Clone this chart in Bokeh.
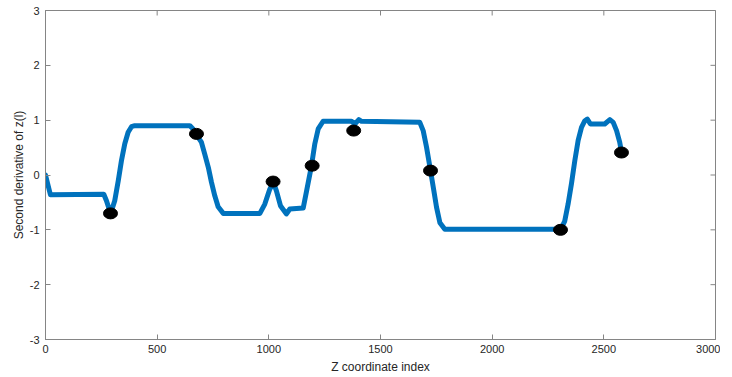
import math
from bokeh.plotting import figure
from bokeh.models import Range1d, FixedTicker, ColumnDataSource
from bokeh.embed import file_html
from bokeh.resources import INLINE

# Curve (Z coordinate index, second derivative)
curve_x = [0, 22, 261, 273, 285, 292, 310, 326, 340, 355, 370, 385, 400, 646, 661, 673,
           698, 713, 729, 743, 758, 773, 796, 960, 982, 1004, 1020, 1034, 1052, 1079,
           1094, 1154, 1169, 1191, 1206, 1221, 1243, 1370, 1385, 1403, 1415, 1676, 1691,
           1706, 1724, 1739, 1751, 1766, 1788, 2307, 2325, 2340, 2355, 2370, 2385, 2400,
           2415, 2426, 2440, 2504, 2527, 2542, 2557, 2571, 2579]
curve_y = [0.0, -0.36, -0.35, -0.47, -0.62, -0.70, -0.47, -0.10, 0.26, 0.57, 0.78, 0.88,
           0.90, 0.90, 0.84, 0.75, 0.60, 0.38, 0.14, -0.13, -0.38, -0.58, -0.70, -0.70,
           -0.53, -0.26, -0.13, -0.29, -0.56, -0.71, -0.62, -0.60, -0.29, 0.17, 0.57,
           0.84, 0.98, 0.98, 0.93, 1.01, 0.98, 0.96, 0.81, 0.51, 0.08, -0.29, -0.59,
           -0.87, -0.99, -0.99, -0.84, -0.53, -0.16, 0.26, 0.63, 0.87, 0.99, 1.02, 0.93,
           0.93, 1.01, 0.96, 0.81, 0.60, 0.42]

# Marked points
mark_x = [291, 676, 1019, 1194, 1380, 1724, 2306, 2579]
mark_y = [-0.70, 0.75, -0.12, 0.17, 0.81, 0.08, -1.0, 0.41]

x_ticks = [0, 500, 1000, 1500, 2000, 2500, 3000]
x_tick_labels = ["0", "500", "1000", "1500", "2000", "2500", "3000"]
y_ticks = [-3, -2, -1, 0, 1, 2, 3]
y_tick_labels = ["-3", "-2", "-1", "0", "1", "2", "3"]

FONT = "Liberation Sans"
AX_COL = "#858585"
TXT_COL = "#262626"

X0, X1, Y0, Y1 = 0, 3000, -3, 3

p = figure(frame_width=670, frame_height=329, output_backend="svg", toolbar_location=None,
           x_range=Range1d(X0, X1), y_range=Range1d(Y0, Y1),
           min_border_left=45, min_border_right=5, min_border_top=10, min_border_bottom=20,
           x_axis_label="Z coordinate index", y_axis_label="Second derivative of z(l)")
p.grid.visible = False
p.outline_line_color = AX_COL
p.outline_line_width = 1
p.background_fill_color = "white"
p.border_fill_color = "white"

# mirrored inner ticks on top and right edges (clipped to the frame)
p.scatter(x=x_ticks, y=[Y1] * len(x_ticks), marker="dash", angle=math.pi / 2, size=10,
          line_color=AX_COL, line_width=1)
p.scatter(x=[X1] * len(y_ticks), y=y_ticks, marker="dash", size=10,
          line_color=AX_COL, line_width=1)

src = ColumnDataSource(dict(x=curve_x, y=curve_y))
p.line("x", "y", source=src, line_color="#0072BD", line_width=5, line_join="round", line_cap="round")
msrc = ColumnDataSource(dict(x=mark_x, y=mark_y))
p.ellipse("x", "y", source=msrc, width=14, height=11, width_units="screen", height_units="screen",
          fill_color="black", line_color="black")

def style(ax, ticks, labels):
    ax.ticker = FixedTicker(ticks=ticks)
    ax.major_label_overrides = {t: l for t, l in zip(ticks, labels)}
    ax.minor_tick_line_color = None
    ax.major_tick_in = 5
    ax.major_tick_out = 0
    ax.axis_line_color = AX_COL
    ax.major_tick_line_color = AX_COL
    ax.major_label_text_font = FONT
    ax.major_label_text_font_size = "11px"
    ax.major_label_text_color = TXT_COL
    ax.axis_label_text_font = FONT
    ax.axis_label_text_font_size = "12px"
    ax.axis_label_text_font_style = "normal"
    ax.axis_label_text_color = TXT_COL

style(p.xaxis[0], x_ticks, x_tick_labels)
p.xaxis[0].major_label_standoff = 5
p.xaxis[0].axis_label_standoff = 4
style(p.yaxis[0], y_ticks, y_tick_labels)
p.yaxis[0].major_label_standoff = 6
p.yaxis[0].axis_label_standoff = 1

open("out.html", "w").write(file_html(p, INLINE))
